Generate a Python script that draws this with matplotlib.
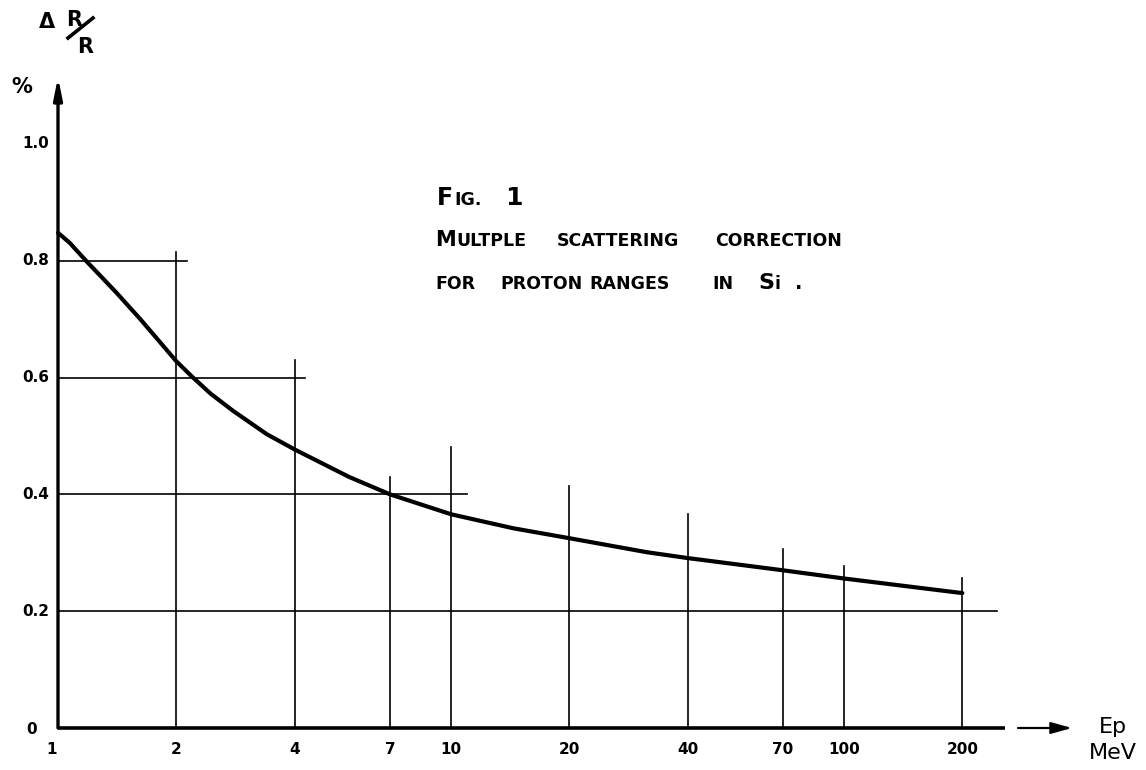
import matplotlib
matplotlib.use("Agg")
import matplotlib.pyplot as plt
from matplotlib.lines import Line2D

# ---------------- data ----------------
energy_mev = [1.0, 1.07, 1.19, 1.30, 1.41, 1.62, 1.79, 2.0, 2.19, 2.45, 2.79, 3.40, 4.0, 5.5, 7.0,
              10.0, 14.4, 20.0, 31.5, 40.0, 70.0, 100.0, 200.0]
delta_r_pct = [0.848, 0.831, 0.797, 0.770, 0.745, 0.700, 0.666, 0.628, 0.602, 0.572, 0.543, 0.503,
               0.477, 0.430, 0.400, 0.366, 0.342, 0.325, 0.301, 0.291, 0.270, 0.256, 0.231]

x_tick_vals = [1, 2, 4, 7, 10, 20, 40, 70, 100, 200]
x_tick_labels = ["1", "2", "4", "7", "10", "20", "40", "70", "100", "200"]
y_tick_vals = [0, 0.2, 0.4, 0.6, 0.8, 1.0]
y_tick_labels = ["0", "0.2", "0.4", "0.6", "0.8", "1.0"]

# grid guide lines as drawn on the sheet
hline_levels = [0.8, 0.6, 0.4, 0.2]
hline_ends = [2.13, 4.25, 11.0, 245.0]
vline_pos = [2, 4, 7, 10, 20, 40, 70, 100, 200]
vline_tops = [0.815, 0.63, 0.429, 0.482, 0.414, 0.367, 0.306, 0.277, 0.256]

# ---------------- figure ----------------
W, H = 1146, 770
fig = plt.figure(figsize=(W / 100, H / 100), dpi=100)
fig.patch.set_facecolor("white")

left_px, right_px, bottom_px, top_px = 58, 1005, 728, 77
decade_px = 393.0
xmax = 10 ** ((right_px - left_px) / decade_px)
ymax = (bottom_px - top_px) / 584.0

ax = fig.add_axes([left_px / W, 1 - bottom_px / H,
                   (right_px - left_px) / W, (bottom_px - top_px) / H])
ax.set_xscale("log")
ax.set_xlim(1, xmax)
ax.set_ylim(0, ymax)
ax.axis("off")

k = "black"
# guide lines
for lvl, xe in zip(hline_levels, hline_ends):
    ax.plot([1, xe], [lvl, lvl], color=k, lw=1.2, clip_on=False)
for xv, tp in zip(vline_pos, vline_tops):
    ax.plot([xv, xv], [0, tp], color=k, lw=1.2, clip_on=False)

# curve
ax.plot(energy_mev, delta_r_pct, color=k, lw=3.0, solid_capstyle="round",
        solid_joinstyle="round", clip_on=False)

# axes lines
ax.plot([1, xmax], [0, 0], color=k, lw=2.6, clip_on=False, solid_capstyle="butt")
ax.annotate("", xy=(0, 1.0), xytext=(0, 0), xycoords="axes fraction",
            arrowprops=dict(arrowstyle="-|>,head_length=0.9,head_width=0.18",
                            lw=2.4, color=k, shrinkA=0, shrinkB=0, mutation_scale=14))
ax.annotate("", xy=((1072 - left_px) / (right_px - left_px), 0),
            xytext=((1018 - left_px) / (right_px - left_px), 0), xycoords="axes fraction",
            arrowprops=dict(arrowstyle="-|>,head_length=0.9,head_width=0.25",
                            lw=1.6, color=k, shrinkA=0, shrinkB=0, mutation_scale=14),
            annotation_clip=False)

# tick labels
for xv, lab in zip(x_tick_vals, x_tick_labels):
    dx = -6 if xv == 1 else 0
    ax.annotate(lab, xy=(xv, 0), xytext=(dx, -22), textcoords="offset pixels",
                ha="center", va="center", fontsize=11, fontweight="bold",
                annotation_clip=False)
for yv, lab in zip(y_tick_vals, y_tick_labels):
    if yv == 0:
        ax.annotate(lab, xy=(1, yv), xytext=(-26, -2), textcoords="offset pixels",
                    ha="center", va="center", fontsize=11, fontweight="bold",
                    annotation_clip=False)
    else:
        ax.annotate(lab, xy=(1, yv), xytext=(-9, 0), textcoords="offset pixels",
                    ha="right", va="center", fontsize=11, fontweight="bold",
                    annotation_clip=False)

# ---------------- texts in pixel coords ----------------
def ftext(x, y, s, **kw):
    return fig.text(x / W, 1 - y / H, s, **kw)

fig.canvas.draw()
renderer = fig.canvas.get_renderer()

def word(x, y, s, size, big=None, weight="bold"):
    """Draw a word at pixel (x, baseline y); optional larger first letter."""
    if big:
        t = ftext(x, y, s[0], fontsize=big, fontweight=weight, va="baseline", ha="left")
        bb = t.get_window_extent(renderer)
        x = bb.x1 + 1
        rest = s[1:]
        if rest:
            ftext(x, y, rest, fontsize=size, fontweight=weight, va="baseline", ha="left")
    else:
        ftext(x, y, s, fontsize=size, fontweight=weight, va="baseline", ha="left")

word(437, 205, "FIG.", 12.5, big=17)
word(505, 205, "1", 18)
for wx, ws, bg in [(435, "MULTPLE", 15), (557, "SCATTERING", None), (715, "CORRECTION", None)]:
    word(wx, 246, ws, 12.5, big=bg)
for wx, ws, bg in [(435, "FOR", None), (500, "PROTON", None), (589, "RANGES", None),
                   (712, "IN", None), (758, "Si", 16)]:
    word(wx, 289, ws, 12.5, big=bg)
ftext(795, 289, ".", fontsize=14, fontweight="bold", va="baseline")

# axis titles
ftext(47, 22, "Δ", fontsize=15, fontweight="bold", ha="center", va="center")
ftext(74, 20, "R", fontsize=15, fontweight="bold", ha="center", va="center")
fig.add_artist(Line2D([68 / W, 93 / W], [1 - 38 / H, 1 - 18 / H], color=k, lw=2.6))
ftext(85, 47, "R", fontsize=15, fontweight="bold", ha="center", va="center")
ftext(22, 87, "%", fontsize=15, fontweight="bold", ha="center", va="center")

ftext(1113, 727, "Ep", fontsize=16, ha="center", va="center")
ftext(1113, 753, "MeV", fontsize=16, ha="center", va="center")

fig.savefig("out.png", dpi=100, facecolor="white")
